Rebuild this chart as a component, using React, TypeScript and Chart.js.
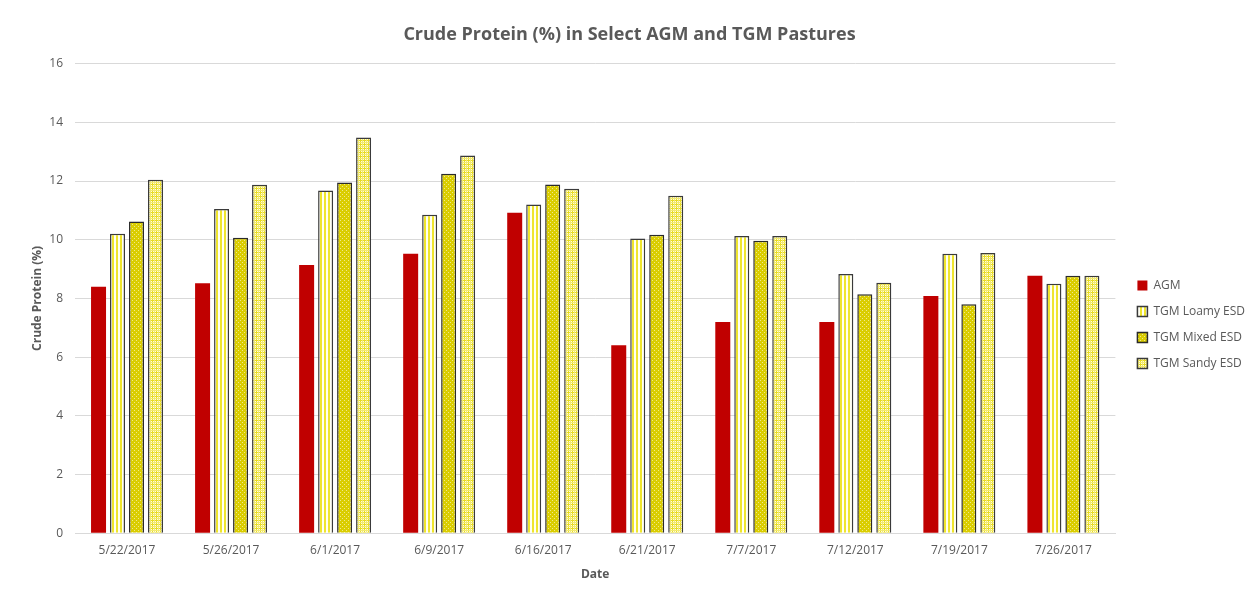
import React, { useEffect, useRef } from "react";
import { Chart, registerables } from "chart.js";

Chart.register(...registerables);

const categories = ["5/22/2017", "5/26/2017", "6/1/2017", "6/9/2017", "6/16/2017", "6/21/2017", "7/7/2017", "7/12/2017", "7/19/2017", "7/26/2017"];
const agm = [8.4, 8.52, 9.14, 9.52, 10.92, 6.4, 7.2, 7.2, 8.08, 8.77];
const tgmLoamy = [10.2, 11.05, 11.68, 10.85, 11.2, 10.04, 10.13, 8.83, 9.52, 8.5];
const tgmMixed = [10.62, 10.07, 11.95, 12.25, 11.88, 10.17, 9.96, 8.14, 7.8, 8.77];
const tgmSandy = [12.04, 11.87, 13.48, 12.87, 11.74, 11.5, 10.13, 8.53, 9.55, 8.77];
const seriesNames = ["AGM", "TGM Loamy ESD", "TGM Mixed ESD", "TGM Sandy ESD"];
const yTicks = [0, 2, 4, 6, 8, 10, 12, 14, 16];

function makePattern(kind: string): CanvasPattern | string {
  const c = document.createElement("canvas");
  const ctx = c.getContext("2d");
  if (!ctx) return "#e0d800";
  c.width = 4; c.height = 4;
  if (kind === "stripes") {
    ctx.fillStyle = "#fffff2";
    ctx.fillRect(0, 0, 4, 4);
    ctx.fillStyle = "#efe52e";
    ctx.fillRect(0, 0, 2, 4);
  } else if (kind === "dots") {
    ctx.fillStyle = "#dacd00";
    ctx.fillRect(0, 0, 4, 4);
    ctx.fillStyle = "#f0e98c";
    ctx.fillRect(0, 0, 1, 1);
    ctx.fillRect(2, 2, 1, 1);
  } else {
    ctx.fillStyle = "#fffbe0";
    ctx.fillRect(0, 0, 4, 4);
    ctx.fillStyle = "#e8dc22";
    ctx.fillRect(0, 0, 4, 1);
    ctx.fillRect(0, 0, 1, 4);
    ctx.fillStyle = "#f2ea70";
    ctx.fillRect(0, 2, 4, 1);
    ctx.fillRect(2, 0, 1, 4);
  }
  const p = ctx.createPattern(c, "repeat");
  return p || "#e0d800";
}

const titleShift = {
  id: "titleShift",
  afterLayout(chart: any) {
    const t = chart.titleBlock;
    if (t) t.right -= 26;
  },
};

export default function App() {
  const ref = useRef<HTMLCanvasElement | null>(null);
  useEffect(() => {
    if (!ref.current) return;
    const font = "'Open Sans', 'Liberation Sans', sans-serif";
    const gray = "#595959";
    const common = { categoryPercentage: 0.73, barPercentage: 0.79 };
    const chart = new Chart(ref.current, {
      type: "bar",
      plugins: [titleShift],
      data: {
        labels: categories,
        datasets: [
          { label: seriesNames[0], data: agm, backgroundColor: "#c00000", borderWidth: 0, ...common },
          { label: seriesNames[1], data: tgmLoamy, backgroundColor: makePattern("stripes") as any, borderColor: "#3a3a3a", borderWidth: 1.5, ...common },
          { label: seriesNames[2], data: tgmMixed, backgroundColor: makePattern("dots") as any, borderColor: "#2a2a2a", borderWidth: 1.5, ...common },
          { label: seriesNames[3], data: tgmSandy, backgroundColor: makePattern("grid") as any, borderColor: "#3a3a3a", borderWidth: 1.5, ...common },
        ],
      },
      options: {
        animation: false,
        responsive: false,
        maintainAspectRatio: false,
        layout: { padding: { top: 0, right: -3, bottom: 10, left: 22 } },
        plugins: {
          title: {
            display: true,
            text: "Crude Protein (%) in Select AGM and TGM Pastures",
            color: gray,
            font: { family: font, size: 18, weight: "bold" },
            padding: { top: 16, bottom: 18 },
          },
          legend: {
            position: "right",
            align: "center",
            title: { display: true, text: " ", font: { size: 8, lineHeight: 1 }, padding: { top: 51, bottom: 0 } },
            labels: {
              boxWidth: 10,
              boxHeight: 10,
              padding: 14,
              color: gray,
              font: { family: font, size: 12 },
            },
          },
          tooltip: { enabled: false },
        },
        scales: {
          x: {
            grid: { display: false, drawTicks: false },
            border: { display: true, color: "#d9d9d9", width: 1 },
            ticks: { color: gray, font: { family: font, size: 12 }, padding: 10, maxRotation: 0 },
            title: { display: true, text: "Date", color: gray, font: { family: font, size: 12, weight: "bold" }, padding: { top: 0, bottom: 0 } },
          },
          y: {
            min: 0,
            max: 16,
            afterBuildTicks: (s: any) => { s.ticks = yTicks.map((v) => ({ value: v })); },
            afterFit: (s: any) => { s.width = 45; },
            grid: { color: "#d9d9d9", drawTicks: false },
            border: { display: false },
            ticks: { color: gray, font: { family: font, size: 12 }, padding: 12 },
            title: { display: true, text: "Crude Protein (%)", color: gray, font: { family: font, size: 12, weight: "bold" }, padding: { top: 0, bottom: 0 } },
          },
          yR: {
            position: "right",
            display: true,
            grid: { display: false, drawTicks: false },
            border: { display: false },
            ticks: { display: false },
            afterFit: (s: any) => { s.width = 8; },
          },
        },
      },
    });
    return () => chart.destroy();
  }, []);
  return (
    <div style={{ width: 1245, height: 585, marginLeft: -1, marginTop: -1, borderLeft: "1px solid #d9d9d9", borderTop: "1px solid #d9d9d9", background: "#fff" }}>
      <canvas ref={ref} width={1244} height={584} style={{ display: "block" }} />
    </div>
  );
}
